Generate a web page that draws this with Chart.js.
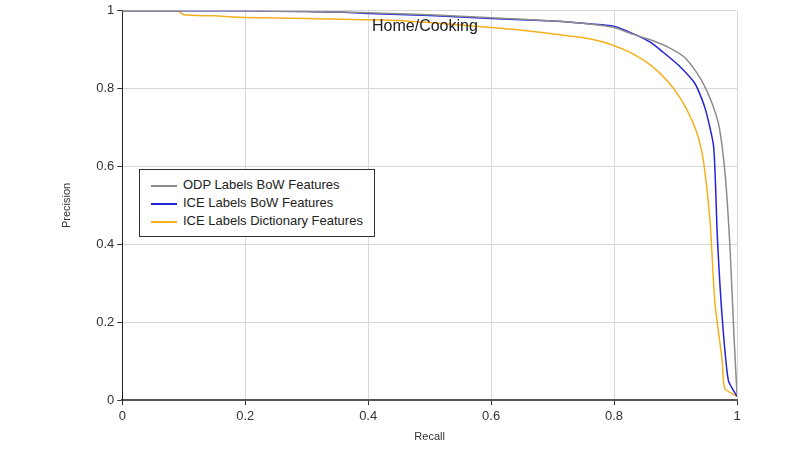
<!DOCTYPE html>
<html>
<head>
<meta charset="utf-8">
<script src="https://cdn.jsdelivr.net/npm/chart.js@4/dist/chart.umd.min.js"></script>
<style>
  body { margin: 0; background: #fff; font-family: "Liberation Sans", Arial, sans-serif; }
  #wrap { position: relative; width: 800px; height: 450px; }
  #title { position: absolute; left: 372px; top: 17px; font-size: 16px; color: #222; }
  #legend { position: absolute; left: 139px; top: 169px; width: 234px; height: 66px;
            border: 1px solid #333; background: #fff; font-size: 13px; color: #222; }
  #legend div { height: 18px; line-height: 18px; margin-left: 11px; }
  #legend div:first-child { margin-top: 6px; }
  #legend span { display: inline-block; width: 26px; height: 2px; vertical-align: middle; margin-right: 6px; }
</style>
</head>
<body>
<div id="wrap">
  <canvas id="c" width="800" height="450"></canvas>
  <div id="title">Home/Cooking</div>
  <div id="legend"></div>
</div>
<script>
// Precision/recall curves
const odpRecall = [0, 0.1, 0.2, 0.3, 0.35, 0.4, 0.5, 0.6, 0.7, 0.75, 0.8, 0.83, 0.86, 0.89, 0.915, 0.935, 0.948, 0.96, 0.971, 0.981, 0.989, 0.995, 1];
const odpPrec   = [1, 1, 1, 0.998, 0.997, 0.995, 0.99, 0.982, 0.974, 0.968, 0.957, 0.94, 0.925, 0.905, 0.88, 0.84, 0.804, 0.76, 0.702, 0.575, 0.38, 0.168, 0.015];

const iceBowRecall = [0, 0.1, 0.2, 0.3, 0.35, 0.4, 0.5, 0.6, 0.7, 0.75, 0.801, 0.84, 0.86, 0.878, 0.905, 0.932, 0.948, 0.962, 0.968, 0.976, 0.986, 1];
const iceBowPrec   = [1, 1, 1, 0.998, 0.997, 0.993, 0.988, 0.98, 0.974, 0.968, 0.96, 0.935, 0.918, 0.896, 0.86, 0.812, 0.75, 0.651, 0.42, 0.21, 0.05, 0.01];

const iceDictRecall = [0, 0.09, 0.1, 0.15, 0.2, 0.3, 0.45, 0.6, 0.65, 0.715, 0.76, 0.796, 0.83, 0.86, 0.889, 0.91, 0.927, 0.938, 0.946, 0.956, 0.964, 0.976, 0.98, 1];
const iceDictPrec   = [1, 1, 0.99, 0.987, 0.983, 0.98, 0.975, 0.957, 0.95, 0.938, 0.928, 0.913, 0.89, 0.86, 0.816, 0.77, 0.718, 0.67, 0.608, 0.463, 0.252, 0.1, 0.03, 0.01];

const seriesNames = ['ODP Labels BoW Features', 'ICE Labels BoW Features', 'ICE Labels Dictionary Features'];
const seriesColors = ['#8c8c8c', '#2323d8', '#f5b01e'];
const tickValues = [0, 0.2, 0.4, 0.6, 0.8, 1];

function pts(xs, ys) { return xs.map((x, i) => ({ x: x, y: ys[i] })); }

const allData = [pts(odpRecall, odpPrec), pts(iceBowRecall, iceBowPrec), pts(iceDictRecall, iceDictPrec)];

const legend = document.getElementById('legend');
seriesNames.forEach((n, i) => {
  const d = document.createElement('div');
  d.innerHTML = '<span style="background:' + seriesColors[i] + '"></span>' + n;
  legend.appendChild(d);
});

const fmt = v => (v === 0 || v === 1) ? String(v) : v.toFixed(1);

new Chart(document.getElementById('c'), {
  type: 'scatter',
  data: {
    datasets: allData.map((d, i) => ({
      label: seriesNames[i],
      data: d,
      showLine: true,
      borderColor: seriesColors[i],
      borderWidth: 1.5,
      pointRadius: 0,
      tension: 0.2
    }))
  },
  options: {
    responsive: false,
    animation: false,
    layout: { padding: { left: 56, right: 63, top: -4, bottom: 2 } },
    plugins: { legend: { display: false }, tooltip: { enabled: false } },
    scales: {
      x: {
        type: 'linear', min: 0, max: 1,
        afterBuildTicks: ax => { ax.ticks = tickValues.map(v => ({ value: v })); },
        grid: { color: '#d8d8d8', tickColor: '#333', tickLength: 5 },
        border: { color: '#555', width: 2 },
        ticks: { color: '#333', font: { size: 13 }, callback: fmt, maxRotation: 0 },
        title: { display: true, text: 'Recall', color: '#333', font: { size: 11 }, padding: { top: 4 } }
      },
      y: {
        min: 0, max: 1,
        afterBuildTicks: ax => { ax.ticks = tickValues.map(v => ({ value: v })); },
        grid: { color: '#d8d8d8', tickColor: '#333', tickLength: 5 },
        border: { color: '#222', width: 1 },
        ticks: { color: '#333', font: { size: 13 }, callback: fmt },
        title: { display: true, text: 'Precision', color: '#333', font: { size: 11 }, padding: { bottom: 20 } }
      }
    }
  }
});
</script>
</body>
</html>
